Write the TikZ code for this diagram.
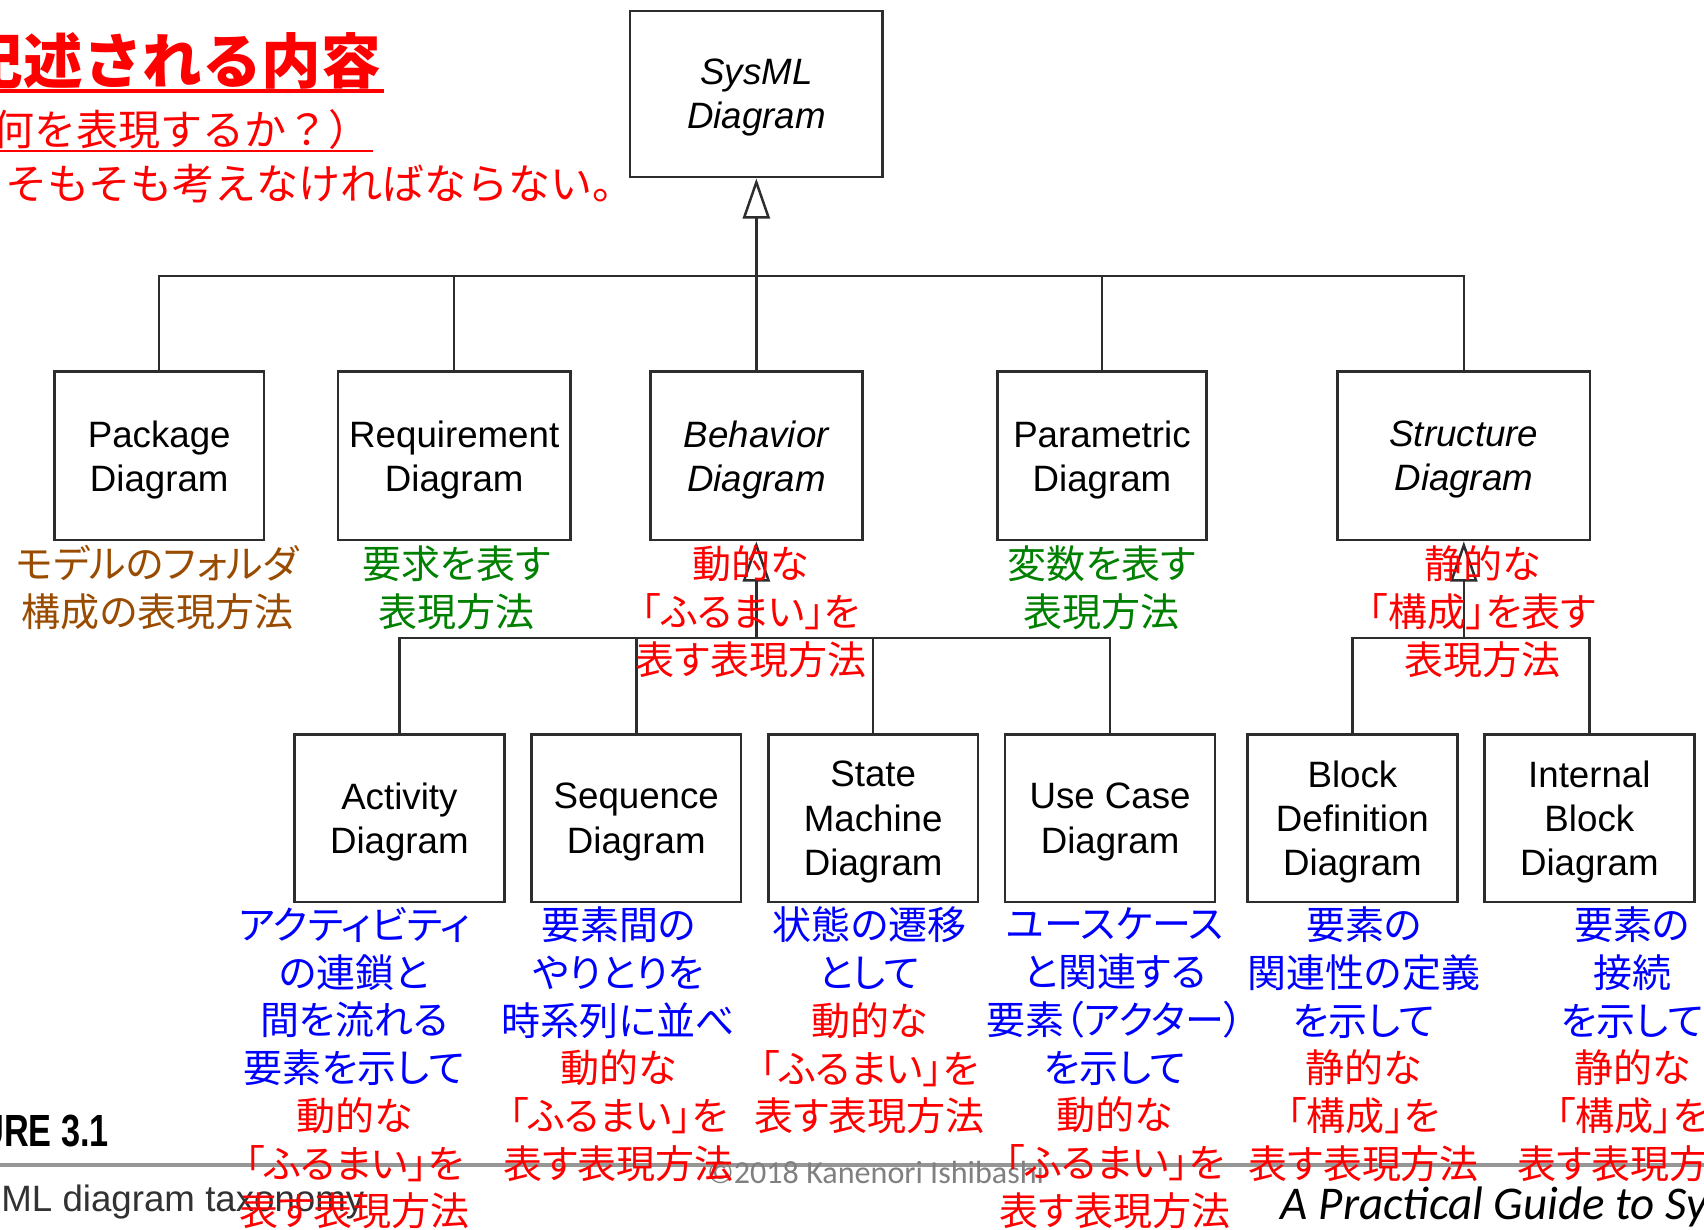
\documentclass[tikz,border=0pt]{standalone}
\usepackage{fontspec}
\setmainfont{Liberation Sans}
\newfontfamily\jpfont[RawFeature=+palt]{Noto Sans CJK JP}
\newfontfamily\jpwide{Noto Sans CJK JP}
\newfontfamily\guidefont{Carlito}
\usepackage{graphicx}
\usetikzlibrary{arrows.meta}

\definecolor{linegray}{RGB}{45,45,45}
\definecolor{notebrown}{RGB}{153,76,0}
\definecolor{notegreen}{RGB}{0,128,0}
\definecolor{rulegray}{RGB}{150,150,150}
\definecolor{copygray}{RGB}{128,128,128}
\definecolor{capgray}{RGB}{50,50,50}

\newcommand\redpart[1]{\textcolor{red}{#1}}

\tikzset{
  diagbox/.style={draw=linegray, line width=0.65pt, minimum width=1.93cm,
    minimum height=1.54cm, inner sep=0pt, align=center, text depth=0pt,
    font=\fontsize{9.6}{11.6}\selectfont},
  abstractbox/.style={diagbox, font=\itshape\fontsize{9.6}{11.6}\selectfont},
  note/.style={inner sep=0pt, align=center, font=\jpfont\fontsize{10.2}{12.5}\selectfont},
  conn/.style={draw=linegray, line width=0.65pt},
  gen/.style={conn, -{Triangle[open, length=0.37cm, width=0.25cm]}},
}

\begin{document}
\begin{tikzpicture}[x=0.01cm, y=-0.01cm]
  \useasboundingbox (0,0) rectangle (1568,1131);
  \clip (0,0) rectangle (1568,1131);
  \fill[white] (0,0) rectangle (1568,1131);

  % heading, cut at the left edge
  \node[anchor=base west, inner sep=0pt, text=red, font=\jpwide\bfseries\fontsize{15.6}{18}\selectfont] (title) at (-34,77) {記述される内容};
  \node[anchor=base west, inner sep=0pt, text=red, font=\jpwide\fontsize{11}{13}\selectfont] (question) at (-8,134) {何を表現するか？）};
  \node[anchor=base west, inner sep=0pt, text=red, font=\jpwide\fontsize{11}{13}\selectfont] (remark) at (4,184) {そもそも考えなければならない。};
  \draw[red, line width=0.04cm] (0,84) -- (353,84);
  \draw[red, line width=0.025cm] (0,139) -- (343,139);

  % diagram boxes
  \node[abstractbox, minimum width=2.32cm, minimum height=1.53cm] (sysml) at (696,86.5) {SysML\\Diagram};

  \node[diagbox, minimum height=1.55cm] (pkg) at (146.5,419.5) {Package\\Diagram};
  \node[diagbox, minimum width=2.14cm, minimum height=1.55cm] (req) at (418,419.5) {Requirement\\Diagram};
  \node[abstractbox, minimum width=1.95cm, minimum height=1.55cm] (beh) at (696,419.5) {Behavior\\Diagram};
  \node[diagbox, minimum width=1.92cm, minimum height=1.55cm] (par) at (1014,419.5) {Parametric\\Diagram};
  \node[abstractbox, minimum width=2.32cm, minimum height=1.55cm] (str) at (1347,419.5) {Structure\\Diagram};

  \node[diagbox] (act) at (367.5,753) {Activity\\Diagram};
  \node[diagbox] (seq) at (585.5,753) {Sequence\\Diagram};
  \node[diagbox] (stm) at (803.5,753) {State\\Machine\\Diagram};
  \node[diagbox] (uc) at (1021.5,753) {Use Case\\Diagram};
  \node[diagbox] (bdd) at (1244.5,753) {Block\\Definition\\Diagram};
  \node[diagbox] (ibd) at (1462.5,753) {Internal\\Block\\Diagram};

  % generalizations
  \coordinate (topbus) at (696,254);
  \draw[gen] (topbus) -- (sysml.south);
  \draw[conn] (pkg.north) |- (topbus) -| (str.north);
  \draw[conn] (req.north) -- (req.north |- topbus);
  \draw[conn] (beh.north) -- (topbus);
  \draw[conn] (par.north) -- (par.north |- topbus);

  \coordinate (behbus) at (696,587);
  \draw[gen] (behbus) -- (beh.south);
  \draw[conn] (act.north) |- (behbus) -| (uc.north);
  \draw[conn] (seq.north) -- (seq.north |- behbus);
  \draw[conn] (stm.north) -- (stm.north |- behbus);

  \coordinate (strbus) at (1347,587);
  \draw[gen] (strbus) -- (str.south);
  \draw[conn] (bdd.north) |- (strbus) -| (ibd.north);

  % figure caption and footer
  \node[anchor=base east, inner sep=0pt, text=black, font=\bfseries\fontsize{11.8}{14}\selectfont] (figlabel) at (101,1055) {\scalebox{0.76}[1]{FIGURE 3.1}};
  \draw[rulegray, line width=0.035cm] (0,1072) -- (1568,1072);
  \node[anchor=base east, inner sep=0pt, text=capgray, font=\fontsize{9.6}{11}\selectfont] (caption) at (336,1115) {SysML diagram taxonomy};
  \node[anchor=base west, inner sep=0pt, text=copygray, font=\guidefont\fontsize{8.4}{10}\selectfont] (copyright) at (650,1089) {©2018 Kanenori Ishibashi};
  \node[anchor=base west, inner sep=0pt, text=black, font=\guidefont\itshape\fontsize{12.3}{14}\selectfont] (booktitle) at (1178,1122) {A Practical Guide to SysML};

  % notes under the boxes
  \node[note, text=notebrown] (pkgnote) at (145,541) {モデルのフォルダ\\構成の表現方法};
  \node[note, text=notegreen] (reqnote) at (420,541) {要求を表す\\表現方法};
  \node[note, text=red] (behnote) at (691,563) {動的な\\「ふるまい」を\\表す表現方法};
  \node[note, text=notegreen] (parnote) at (1014,541) {変数を表す\\表現方法};
  \node[note, text=red] (strnote) at (1364,563) {静的な\\「構成」を表す\\表現方法};

  \node[note, text=blue] (actnote) at (326,983) {アクティビティ\\の連鎖と\\間を流れる\\要素を示して\\\redpart{動的な}\\\redpart{「ふるまい」を}\\\redpart{表す表現方法}};
  \node[note, text=blue] (seqnote) at (569,961) {要素間の\\やりとりを\\時系列に並べ\\\redpart{動的な}\\\redpart{「ふるまい」を}\\\redpart{表す表現方法}};
  \node[note, text=blue] (stmnote) at (800,939) {状態の遷移\\として\\\redpart{動的な}\\\redpart{「ふるまい」を}\\\redpart{表す表現方法}};
  \node[note, text=blue] (ucnote) at (1026,983) {ユースケース\\と関連する\\要素（アクター）\\を示して\\\redpart{動的な}\\\redpart{「ふるまい」を}\\\redpart{表す表現方法}};
  \node[note, text=blue] (bddnote) at (1255,961) {要素の\\関連性の定義\\を示して\\\redpart{静的な}\\\redpart{「構成」を}\\\redpart{表す表現方法}};
  \node[note, text=blue] (ibdnote) at (1502,961) {要素の\\接続\\を示して\\\redpart{静的な}\\\redpart{「構成」を}\\\redpart{表す表現方法}};
\end{tikzpicture}
\end{document}
